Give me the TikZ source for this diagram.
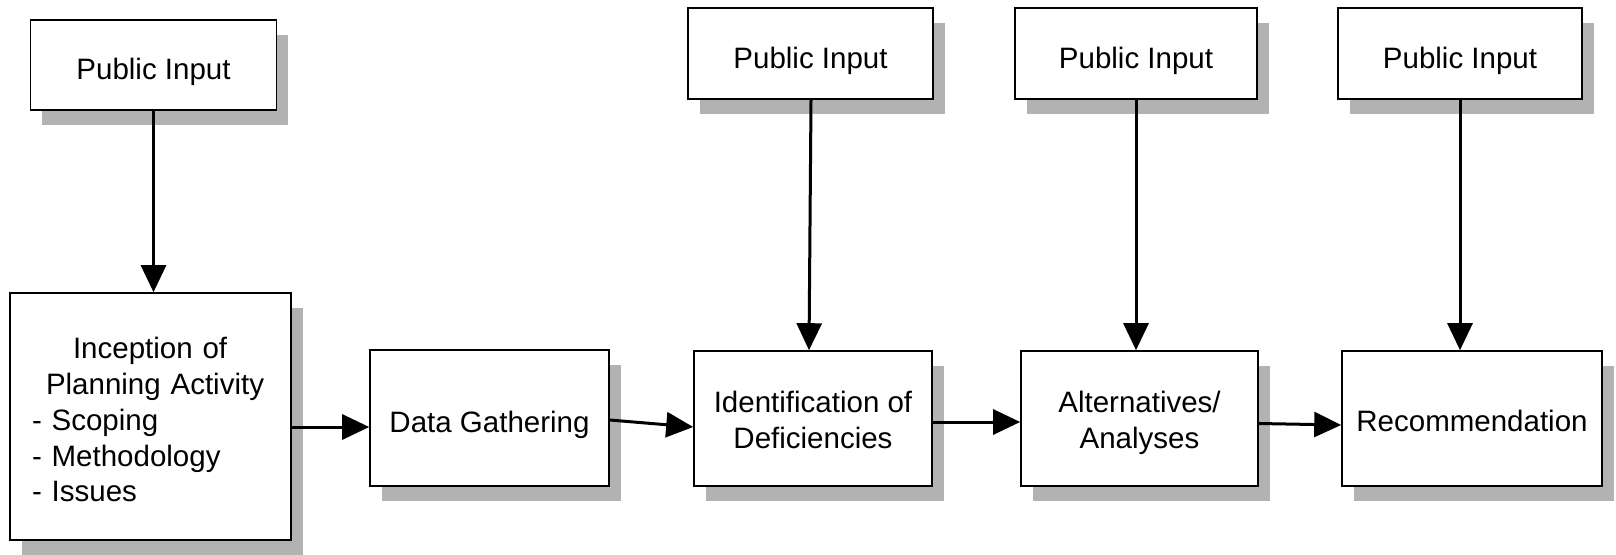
\documentclass[tikz,border=0pt]{standalone}
\usepackage{fontspec}
\setmainfont{Liberation Sans}
\usetikzlibrary{arrows.meta,shadows}
\definecolor{shgray}{HTML}{B2B2B2}
\tikzset{
  box/.style={draw=black, line width=1.6pt, fill=white, inner sep=0pt, align=center,
    font=\fontsize{29.5}{35.7}\selectfont,
    general shadow={fill=shgray, shadow xshift=11.5pt, shadow yshift=-15pt}},
  oneline/.style={text height=35pt, text depth=6pt},
  link/.style={line width=3pt, -{Triangle[length=27pt,width=25pt]}},
}
\begin{document}
\begin{tikzpicture}[x=1pt,y=-1pt]
\useasboundingbox (0,0) rectangle (1616,554);
\node[box, oneline, minimum width=246pt, minimum height=90pt] (pi1) at (153.5,65) {Public Input};
\node[box, oneline, minimum width=245pt, minimum height=91pt] (pi2) at (810.5,53.5) {Public Input};
\node[box, oneline, minimum width=242pt, minimum height=91pt] (pi3) at (1136,53.5) {Public Input};
\node[box, oneline, minimum width=244pt, minimum height=91pt] (pi4) at (1460,53.5) {Public Input};
\node[box, minimum width=281pt, minimum height=247pt, text width=237pt, align=left,
      text height=28pt] (inc) at (150.5,416.5)
  {\hspace*{41pt}Inception of\\\hspace*{14pt}Planning Activity\\- Scoping\\- Methodology\\- Issues};
\node[box, oneline, minimum width=239pt, minimum height=136pt] (dg) at (489.5,418) {Data Gathering};
\node[box, minimum width=238pt, minimum height=135pt, text height=59.5pt, text depth=0pt] (ident) at (813,418.5) {Identification of\\Deficiencies};
\node[box, minimum width=237pt, minimum height=135pt, text height=60pt, text depth=0pt] (alt) at (1139.5,418.5) {Alternatives/\\Analyses};
\node[box, minimum width=260pt, minimum height=135pt, text height=34pt, text depth=9pt] (rec) at (1472,418.5) {Recommendation};

\draw[link] (pi1.south) -- (pi1.south |- inc.north);
\draw[link] ([xshift=0.5pt]pi2.south) -- ([xshift=-4pt]ident.north);
\draw[link] (pi3.south) -- (pi3.south |- alt.north);
\draw[link] (pi4.south) -- (pi4.south |- rec.north);
\draw[link] ([yshift=-10.5pt]inc.east) -- ([yshift=-9pt]dg.west);
\draw[link] ([yshift=-2pt]dg.east) -- ([yshift=-8.5pt]ident.west);
\draw[link] ([yshift=-3.5pt]ident.east) -- ([yshift=-3.5pt]alt.west);
\draw[link] ([yshift=-5pt]alt.east) -- ([yshift=-6.5pt]rec.west);
\end{tikzpicture}
\end{document}
